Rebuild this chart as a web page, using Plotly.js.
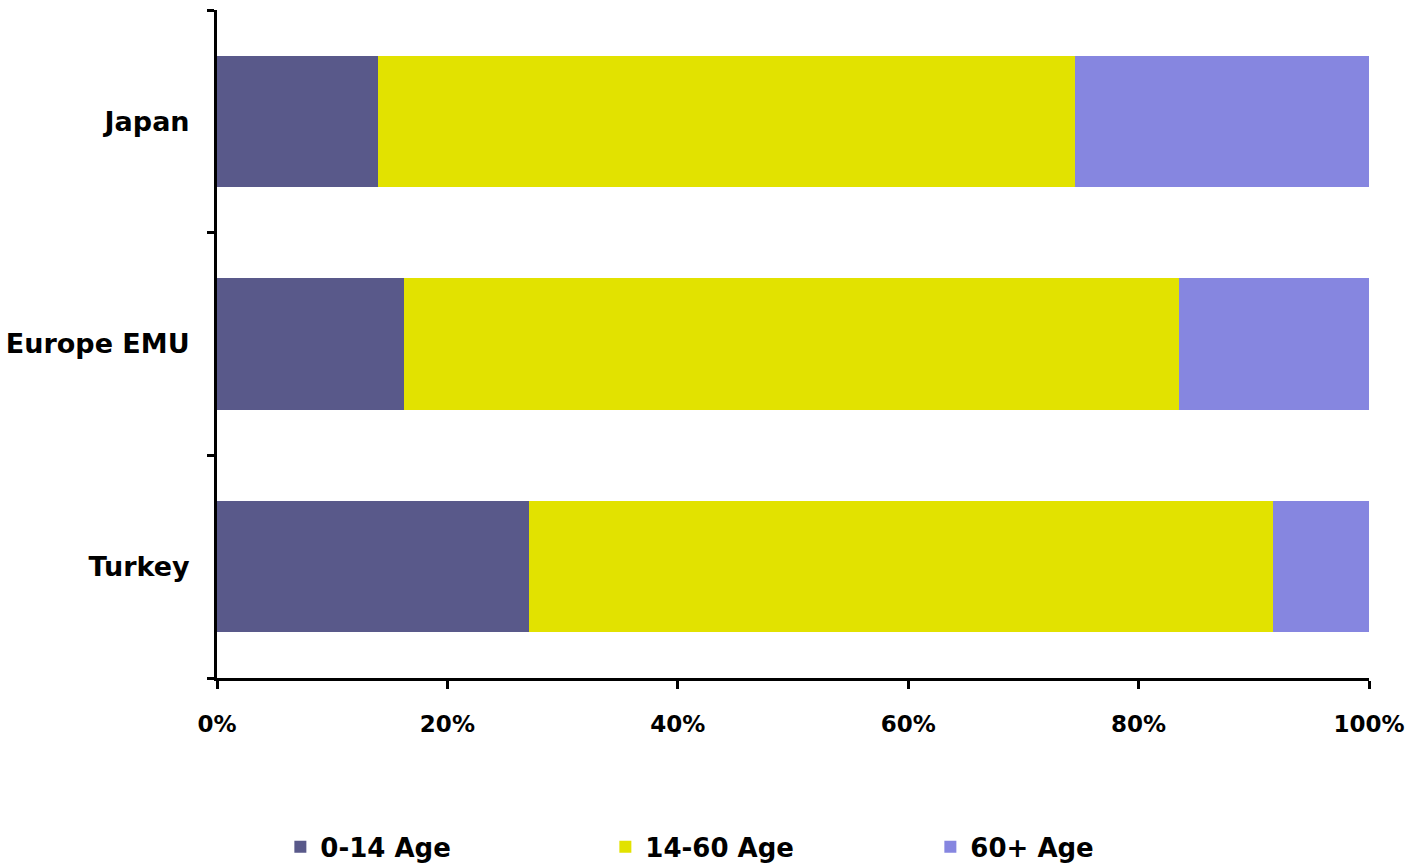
<!DOCTYPE html>
<html>
<head>
<meta charset="utf-8">
<script src="https://cdn.plot.ly/plotly-3.0.1.min.js"></script>
<style>html,body{margin:0;padding:0;background:#fff;}#chart{width:1409px;height:866px;}</style>
</head>
<body>
<div id="chart"></div>
<script>
var countries = ["Turkey", "Europe EMU", "Japan"];
var age0_14 = [27.1, 16.2, 14.0];
var age14_60 = [64.6, 67.3, 60.5];
var age60p = [8.3, 16.5, 25.5];
var seriesNames = ["0-14 Age", "14-60 Age", "60+ Age"];
var xTickVals = [0, 20, 40, 60, 80, 100];
var xTickText = ["0%", "20%", "40%", "60%", "80%", "100%"];

var colors = ["#59598a", "#e2e200", "#8686e0"];
var values = [age0_14, age14_60, age60p];

var traces = values.map(function (v, i) {
  return {
    type: "bar",
    orientation: "h",
    y: countries,
    x: v,
    name: seriesNames[i],
    marker: {color: colors[i], line: {width: 0}},
    hoverinfo: "x+y+name"
  };
});

var font = "'DejaVu Sans', 'Liberation Sans', Arial, sans-serif";
var layout = {
  width: 1409,
  height: 866,
  barmode: "stack",
  bargap: 0.41,
  margin: {l: 217, r: 40, t: 10, b: 188, pad: 0},
  paper_bgcolor: "#ffffff",
  plot_bgcolor: "#ffffff",
  showlegend: true,
  legend: {
    orientation: "h",
    x: 0.055,
    xanchor: "left",
    yref: "container",
    y: 0.022,
    yanchor: "middle",
    entrywidth: 280,
    entrywidthmode: "pixels",
    font: {family: font, size: 26, color: "#000", weight: "bold"},
    traceorder: "normal",
    itemwidth: 30,
    tracegroupgap: 0,
    borderwidth: 0
  },
  xaxis: {
    range: [0, 100],
    tickvals: xTickVals,
    ticktext: xTickText,
    ticks: "outside",
    ticklen: 8,
    tickwidth: 3,
    tickcolor: "#000",
    showline: true,
    linecolor: "#000",
    linewidth: 3,
    showgrid: false,
    zeroline: false,
    ticklabelstandoff: 15,
    tickfont: {family: font, size: 23, color: "#000", weight: "bold"},
    fixedrange: true
  },
  yaxis: {
    type: "category",
    categoryorder: "array",
    categoryarray: countries,
    range: [-0.5, 2.5],
    tickson: "boundaries",
    ticks: "outside",
    ticklen: 7,
    tickwidth: 3,
    tickcolor: "#000",
    showline: true,
    linecolor: "#000",
    linewidth: 3,
    showgrid: false,
    zeroline: false,
    ticklabelstandoff: 19,
    tickfont: {family: font, size: 27, color: "#000", weight: "bold"},
    fixedrange: true
  }
};

Plotly.newPlot("chart", traces, layout, {displayModeBar: false, staticPlot: true});
</script>
</body>
</html>
